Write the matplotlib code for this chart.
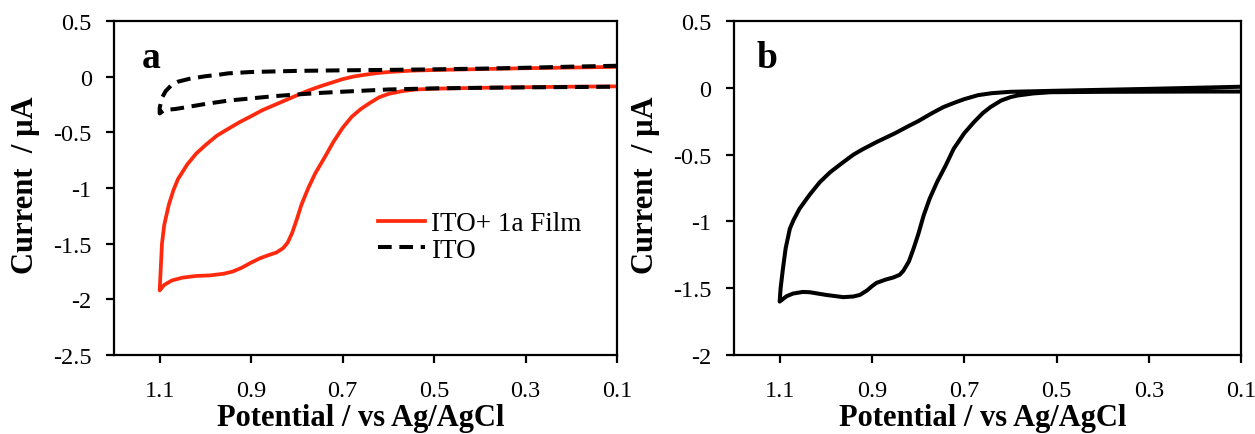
import numpy as np
import matplotlib.pyplot as plt

# panel a: ITO + 1a film (red), forward sweep 0.1 -> 1.1 then back
film_fwd_x = [0.10, 0.20, 0.30, 0.40, 0.50, 0.55, 0.60, 0.625, 0.65, 0.675, 0.70,
              0.725, 0.75, 0.775, 0.80, 0.825, 0.85, 0.875, 0.90, 0.925, 0.95,
              0.975, 1.00, 1.02, 1.04, 1.06, 1.07, 1.08, 1.09, 1.095, 1.10]
film_fwd_y = [0.088, 0.082, 0.076, 0.068, 0.060, 0.054, 0.042, 0.032, 0.018, 0.002,
              -0.022, -0.055, -0.088, -0.125, -0.168, -0.212, -0.256, -0.300, -0.355,
              -0.408, -0.468, -0.530, -0.615, -0.690, -0.790, -0.920, -1.02, -1.15,
              -1.33, -1.50, -1.92]
film_rev_x = [1.10, 1.09, 1.073, 1.05, 1.02, 0.99, 0.96, 0.94, 0.92, 0.90, 0.88,
              0.86, 0.845, 0.83, 0.82, 0.81, 0.80, 0.79, 0.775, 0.76, 0.74, 0.72,
              0.70, 0.68, 0.66, 0.64, 0.62, 0.60, 0.57, 0.54, 0.50, 0.40, 0.30,
              0.20, 0.10]
film_rev_y = [-1.92, -1.87, -1.83, -1.805, -1.79, -1.785, -1.77, -1.75, -1.715, -1.67,
              -1.63, -1.60, -1.58, -1.54, -1.49, -1.40, -1.28, -1.15, -1.00, -0.87,
              -0.73, -0.585, -0.46, -0.36, -0.29, -0.235, -0.185, -0.155, -0.13,
              -0.115, -0.108, -0.100, -0.095, -0.090, -0.087]

# panel a: bare ITO (dashed)
ito_fwd_x = [0.10, 0.20, 0.30, 0.40, 0.50, 0.60, 0.70, 0.80, 0.90, 0.95, 0.97,
             1.00, 1.036, 1.06, 1.073, 1.087, 1.095, 1.10, 1.10]
ito_fwd_y = [0.098, 0.090, 0.080, 0.072, 0.066, 0.061, 0.057, 0.052, 0.042, 0.030,
             0.018, 0.004, -0.020, -0.045, -0.071, -0.13, -0.19, -0.28, -0.33]
ito_rev_x = [1.10, 1.09, 1.065, 1.00, 0.95, 0.90, 0.85, 0.80, 0.75, 0.70, 0.65,
             0.60, 0.50, 0.40, 0.30, 0.20, 0.10]
ito_rev_y = [-0.33, -0.30, -0.29, -0.245, -0.215, -0.195, -0.175, -0.160, -0.146,
             -0.135, -0.125, -0.115, -0.105, -0.100, -0.096, -0.093, -0.090]

# panel b
b_fwd_x = [0.10, 0.20, 0.30, 0.40, 0.50, 0.55, 0.60, 0.64, 0.67, 0.70, 0.72, 0.745,
           0.77, 0.80, 0.82, 0.85, 0.89, 0.92, 0.94, 0.962, 0.99, 1.013, 1.035,
           1.057, 1.07, 1.078, 1.087, 1.093, 1.098, 1.10]
b_fwd_y = [0.008, 0.000, -0.008, -0.015, -0.022, -0.026, -0.030, -0.040, -0.055,
           -0.085, -0.11, -0.144, -0.19, -0.25, -0.285, -0.34, -0.406, -0.46, -0.50,
           -0.556, -0.63, -0.706, -0.80, -0.905, -0.99, -1.055, -1.20, -1.355, -1.50,
           -1.60]
b_rev_x = [1.10, 1.085, 1.071, 1.05, 1.035, 1.00, 0.962, 0.94, 0.926, 0.91, 0.90,
           0.89, 0.87, 0.854, 0.84, 0.832, 0.82, 0.81, 0.80, 0.788, 0.775, 0.759,
           0.74, 0.723, 0.70, 0.679, 0.66, 0.643, 0.62, 0.60, 0.585, 0.55, 0.513,
           0.40, 0.30, 0.20, 0.10]
b_rev_y = [-1.60, -1.56, -1.54, -1.528, -1.53, -1.55, -1.567, -1.562, -1.55, -1.515,
           -1.485, -1.46, -1.435, -1.42, -1.40, -1.37, -1.30, -1.205, -1.10, -0.956,
           -0.83, -0.706, -0.58, -0.457, -0.34, -0.257, -0.19, -0.144, -0.095, -0.07,
           -0.058, -0.042, -0.033, -0.030, -0.029, -0.028, -0.028]

xticks = [1.1, 0.9, 0.7, 0.5, 0.3, 0.1]
xticklabels = ["1.1", "0.9", "0.7", "0.5", "0.3", "0.1"]

plt.rcParams["font.family"] = ["Liberation Serif", "DejaVu Serif"]

fig = plt.figure(figsize=(12.55, 4.35), dpi=100)
ax_a = fig.add_axes([0.0908, 0.1816, 0.4008, 0.7678])
ax_b = fig.add_axes([0.5845, 0.1816, 0.4044, 0.7678])


def style_axes(ax, ylim, yticks):
    ax.set_xlim(1.2, 0.1)
    ax.set_ylim(*ylim)
    ax.set_xticks(xticks)
    ax.set_xticklabels(xticklabels)
    ax.set_yticks(yticks)
    ax.set_yticklabels([f"{v:g}" for v in yticks])
    for s in ax.spines.values():
        s.set_linewidth(1.6)
    ax.tick_params(direction="out", length=6, width=1.6, labelsize=17.5, colors="black")
    ax.tick_params(axis="y", pad=10)
    ax.tick_params(axis="x", pad=12)
    ax.set_xlabel("Potential / vs Ag/AgCl", fontsize=22, fontweight="bold")
    ax.set_ylabel("Current  / µA", fontsize=22, fontweight="bold")
    ax.xaxis.set_label_coords(0.49, -0.143)


style_axes(ax_a, (-2.5, 0.5), [-2.5, -2, -1.5, -1, -0.5, 0, 0.5])
style_axes(ax_b, (-2, 0.5), [-2, -1.5, -1, -0.5, 0, 0.5])
ax_a.yaxis.set_label_coords(-0.147, 0.51)
ax_b.yaxis.set_label_coords(-0.145, 0.51)

ax_a.plot(film_fwd_x + film_rev_x, film_fwd_y + film_rev_y, color="#ff2a0e",
          linewidth=2.7, label="ITO+ 1a Film", solid_joinstyle="round")
ax_a.plot(ito_fwd_x + ito_rev_x, ito_fwd_y + ito_rev_y, color="black",
          linewidth=2.9, linestyle=(0, (3.4, 1.9)), label="ITO")
ax_a.legend(loc="upper left", bbox_to_anchor=(0.525, 0.43), frameon=False,
            fontsize=19.5, handlelength=1.75, handletextpad=0.19, labelspacing=0.05,
            borderpad=0, borderaxespad=0)
ax_a.text(0.0746, 0.862, "a", transform=ax_a.transAxes, fontsize=27,
          fontweight="bold", ha="center", va="baseline")

ax_b.plot(b_fwd_x + b_rev_x, b_fwd_y + b_rev_y, color="black", linewidth=2.9,
          solid_joinstyle="round")
ax_b.text(0.065, 0.862, "b", transform=ax_b.transAxes, fontsize=27,
          fontweight="bold", ha="center", va="baseline")

fig.savefig("out.png", dpi=100)
